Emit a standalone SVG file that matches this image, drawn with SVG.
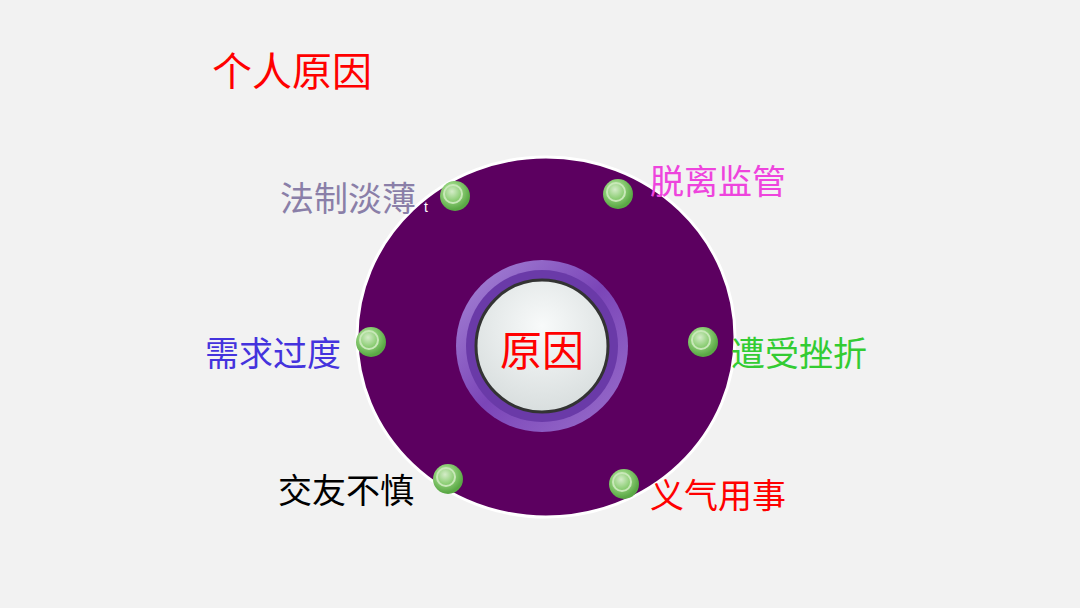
<svg xmlns="http://www.w3.org/2000/svg" width="1080" height="608" viewBox="0 0 1080 608">
<defs>
<style>
.t{font-family:"Noto Sans CJK SC","Liberation Serif",serif;font-size:34px}
</style>
<radialGradient id="g" cx="0.4" cy="0.35" r="0.6">
<stop offset="0" stop-color="#d4ecc8"/><stop offset="0.5" stop-color="#8fcf78"/><stop offset="1" stop-color="#5aa845"/>
</radialGradient>
<linearGradient id="ring" x1="0" y1="0" x2="1" y2="1">
<stop offset="0" stop-color="#a98ad8"/><stop offset="0.5" stop-color="#7b45b8"/><stop offset="1" stop-color="#9a70cc"/>
</linearGradient>
<radialGradient id="w" cx="0.5" cy="0.35" r="0.7">
<stop offset="0" stop-color="#f8fafa"/><stop offset="1" stop-color="#d6dcdc"/>
</radialGradient>
<g id="dot"><circle r="15" fill="url(#g)"/><circle cx="-2" cy="-2" r="9" fill="none" stroke="#c8e8b8" stroke-width="2"/></g>
</defs>
<rect width="1080" height="608" fill="#f2f2f2"/>
<text x="212" y="86" class="t" font-size="40" fill="#ff0000" style="font-size:40px">个人原因</text>
<g id="main">
<ellipse cx="546" cy="337" rx="189" ry="180" fill="#5c0060" stroke="#ffffff" stroke-width="3"/>
<circle cx="542" cy="346" r="86" fill="url(#ring)"/>
<circle cx="542" cy="346" r="76" fill="#6a3aa8"/>
<circle cx="542" cy="346" r="66" fill="url(#w)" stroke="#333" stroke-width="3"/>
<text x="542" y="366" text-anchor="middle" class="t" fill="#ff0000" style="font-size:42px">原因</text>
</g>
<g id="n1"><use href="#dot" x="455" y="196"/><text x="280" y="211" class="t" fill="#8a7fa8">法制淡薄</text><text x="424" y="212" font-family="Liberation Sans,sans-serif" font-size="14" fill="#fff">t</text></g>
<g id="n2"><use href="#dot" x="618" y="194"/><text x="650" y="194" class="t" fill="#ee44dd">脱离监管</text></g>
<g id="n3"><use href="#dot" x="371" y="342"/><text x="205" y="366" class="t" fill="#4433dd">需求过度</text></g>
<g id="n4"><use href="#dot" x="703" y="342"/><text x="731" y="366" class="t" fill="#33cc33">遭受挫折</text></g>
<g id="n5"><use href="#dot" x="448" y="479"/><text x="278" y="503" class="t" fill="#000">交友不慎</text></g>
<g id="n6"><use href="#dot" x="624" y="484"/><text x="650" y="508" class="t" fill="#ff0000">义气用事</text></g>
<g id="connectors"/>
</svg>
